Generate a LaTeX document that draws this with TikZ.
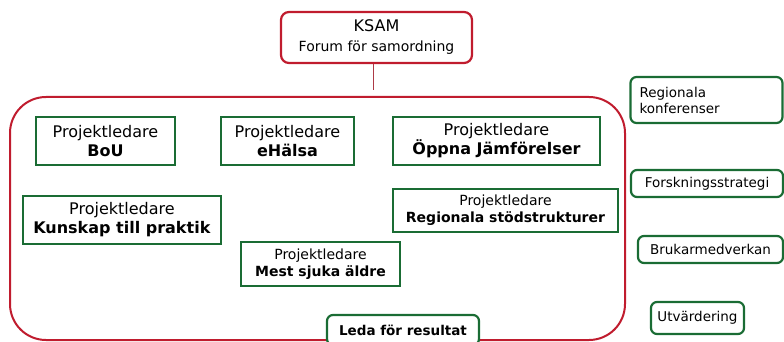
\documentclass[tikz,border=0pt]{standalone}
\usepackage{fontspec}
\setmainfont{DejaVu Sans}
\definecolor{ksamred}{RGB}{192,28,46}
\definecolor{leadgreen}{RGB}{26,108,52}
\begin{document}
\begin{tikzpicture}[x=1pt, y=-1pt,
    bigproj/.style={draw=leadgreen, line width=2.2pt, align=center, inner sep=0pt,
                    minimum height=48pt, font=\fontsize{16}{19}\selectfont},
    smallproj/.style={draw=leadgreen, line width=2.2pt, align=center, inner sep=0pt,
                      minimum height=44pt, font=\fontsize{14}{17}\selectfont},
    sidebox/.style={draw=leadgreen, line width=2.2pt, rounded corners=6pt, inner sep=0pt,
                    align=center, font=\fontsize{13.5}{16}\selectfont}]
    \clip (0, 0) rectangle (784, 342);

    % KSAM
    \node [draw=ksamred, line width=2.2pt, rounded corners=8pt, align=center,
           minimum width=191pt, minimum height=51pt, inner sep=0pt,
           font=\fontsize{14}{20}\selectfont] (ksam) at (376.5, 37.5)
          {{\fontsize{16}{20}\selectfont KSAM}\\Forum för samordning};

    % Frame
    \node [draw=ksamred, line width=2pt, rounded corners=36pt,
           minimum width=615pt, minimum height=243pt] (frame) at (317.5, 218.5) {};

    % Edge
    \coordinate (stem) at (373, 90);
    \draw [ksamred!70!gray, line width=1pt] (ksam.south -| stem) -- (stem);

    % Projects, first row
    \node [bigproj, minimum width=139pt] (bou) at (105.5, 141) {Projektledare\\\textbf{BoU}};
    \node [bigproj, minimum width=133pt] (ehalsa) at (287.5, 141) {Projektledare\\\textbf{eHälsa}};
    \node [bigproj, minimum width=207pt] (oppna) at (496.5, 141)
          {Projektledare\\\textbf{Öppna Jämförelser}};

    % Projects, lower
    \node [bigproj, minimum width=198pt] (kunskap) at (122, 220)
          {Projektledare\\\textbf{Kunskap till praktik}};
    \node [smallproj, minimum width=225pt, minimum height=43pt] (stod) at (505.5, 210.5)
          {Projektledare\\\textbf{Regionala stödstrukturer}};
    \node [smallproj, minimum width=159pt] (aldre) at (320.5, 264)
          {Projektledare\\\textbf{Mest sjuka äldre}};

    % Leda
    \node [draw=leadgreen, line width=2.2pt, rounded corners=6pt, fill=white,
           minimum width=152pt, minimum height=30pt, inner sep=0pt,
           font=\fontsize{13.5}{16}\selectfont\bfseries] (leda) at (403, 330) {Leda för resultat};

    % Side boxes
    \node [sidebox, align=left, text width=134pt, inner xsep=9pt, minimum height=46pt]
          (konf) at (706.5, 100) {Regionala\\konferenser};
    \node [sidebox, minimum width=152pt, minimum height=27pt] (forsk) at (707, 183.5)
          {Forskningsstrategi};
    \node [sidebox, minimum width=145pt, minimum height=27pt] (bruk) at (710.5, 249.5)
          {Brukarmedverkan};
    \node [sidebox, minimum width=93pt, minimum height=32pt] (utv) at (697.5, 318)
          {Utvärdering};
\end{tikzpicture}
\end{document}
